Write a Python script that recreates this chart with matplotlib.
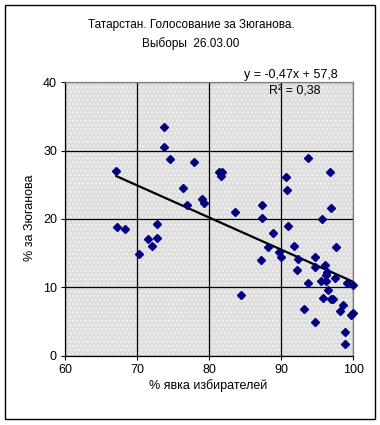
import matplotlib
matplotlib.use("Agg")
import matplotlib.pyplot as plt
from matplotlib.patches import Rectangle

plt.rcParams['font.family'] = ['Liberation Sans', 'DejaVu Sans']
plt.rcParams['hatch.linewidth'] = 0.8

turnout = [67.1, 67.2, 68.3, 70.3, 71.5, 72.0, 72.8, 72.8, 73.75, 73.75,
           74.6, 76.4, 76.9, 77.9, 79.0, 79.3, 81.3, 81.8, 81.6, 83.6,
           84.4, 87.2, 87.3, 87.3, 88.1, 88.9, 89.7, 90.0, 90.7, 90.8,
           90.9, 91.7, 92.2, 92.3, 93.2, 93.75, 93.75, 94.7, 94.7, 94.7,
           95.5, 95.6, 95.8, 96.1, 96.25, 96.3, 96.2, 96.5, 96.7, 96.9,
           96.9, 97.2, 97.4, 97.6, 98.1, 98.6, 98.8, 98.9, 99.1, 99.9,
           99.9, 99.7]
zyuganov = [27.0, 18.8, 18.5, 14.8, 17.0, 16.1, 19.3, 17.2, 33.5, 30.5,
            28.8, 24.5, 22.0, 28.4, 22.9, 22.4, 26.9, 26.8, 26.3, 21.0,
            8.8, 14.0, 22.0, 20.1, 15.9, 17.9, 15.2, 14.4, 26.2, 24.2,
            19.0, 16.0, 12.5, 14.2, 6.8, 28.9, 10.6, 14.4, 13.0, 4.9,
            10.9, 20.0, 8.4, 13.3, 10.9, 12.2, 11.8, 9.6, 26.8, 21.6,
            8.3, 8.3, 11.3, 15.9, 6.5, 7.4, 1.7, 3.4, 10.6, 10.3,
            6.3, 6.0]
trend_slope = -0.47
trend_intercept = 57.8
x_ticks = [60, 70, 80, 90, 100]
y_ticks = [0, 10, 20, 30, 40]
title_lines = ["Татарстан. Голосование за Зюганова.", "Выборы  26.03.00"]
eq_text = "y = -0,47x + 57,8"
r2_text = "R² = 0,38"
x_label = "% явка избирателей"
y_label = "% за Зюганова"

W, H = 380, 425
fig = plt.figure(figsize=(W / 100, H / 100), dpi=100)
fig.patch.set_facecolor('white')

def fx(px):
    return px / W

def fy(py):
    return 1 - py / H

left, right, top, bottom = 65.3, 353.3, 82.3, 355.6
ax = fig.add_axes([fx(left), fy(bottom), fx(right) - fx(left), fy(top) - fy(bottom)])
ax.set_facecolor('#dedede')
ax.add_patch(Rectangle((0, 0), 1, 1, transform=ax.transAxes, facecolor='none',
                       edgecolor='#f4f4f4', hatch='....', linewidth=0, zorder=0))
ax.set_xlim(60, 100)
ax.set_ylim(0, 40)
ax.set_xticks(x_ticks)
ax.set_yticks(y_ticks)
ax.grid(True, color='black', linewidth=0.9, zorder=1)
ax.set_axisbelow(True)
for s in ['top', 'right']:
    ax.spines[s].set_color('#808080')
    ax.spines[s].set_linewidth(0.9)
for s in ['left', 'bottom']:
    ax.spines[s].set_color('black')
    ax.spines[s].set_linewidth(0.9)
ax.tick_params(direction='out', length=3, width=0.8, labelsize=9, pad=3)

ax.plot(turnout, zyuganov, linestyle='none', marker='D', markersize=3.6,
        color='#000080', zorder=3, clip_on=False)

x0 = min(turnout)
x1 = max(x_ticks)
ax.plot([x0, x1], [trend_slope * x0 + trend_intercept, trend_slope * x1 + trend_intercept],
        color='black', linewidth=1.6, zorder=2)

fig.text(fx(191), fy(25), title_lines[0], ha='center', va='center', fontsize=8.5)
fig.text(fx(191), fy(44), title_lines[1], ha='center', va='center', fontsize=8.5)
fig.text(fx(291), fy(75), eq_text, ha='center', va='center', fontsize=9)
fig.text(fx(295), fy(92), r2_text, ha='center', va='center', fontsize=9)
fig.text(fx(30), fy(218), y_label, ha='center', va='center', rotation=90, fontsize=9)
fig.text(fx(208), fy(386), x_label, ha='center', va='center', fontsize=9)

fig.add_artist(Rectangle((fx(5), fy(419)), fx(375) - fx(5), fy(5) - fy(419),
                         transform=fig.transFigure, fill=False, edgecolor='black', linewidth=1.0))

fig.savefig('out.png', dpi=100)
